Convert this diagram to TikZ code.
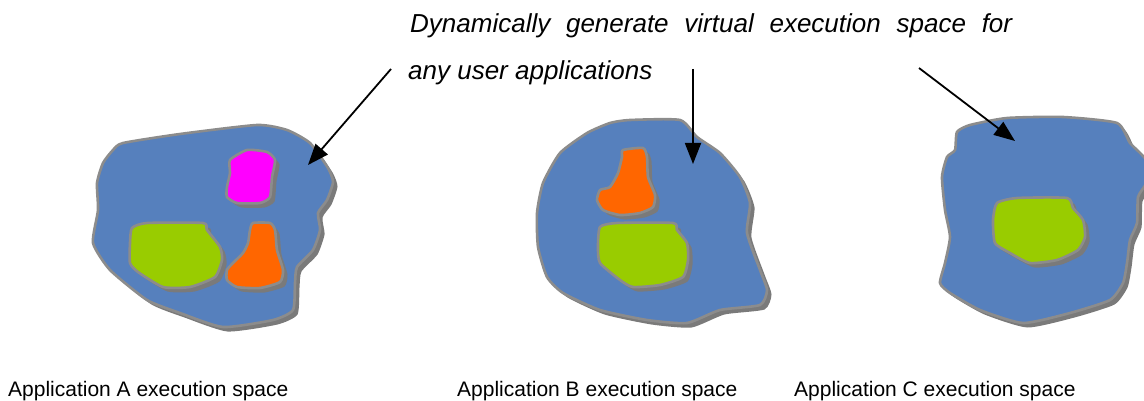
\documentclass[tikz,border=0pt]{standalone}
\usepackage{fontspec}
\setmainfont{Liberation Sans}
\usetikzlibrary{arrows.meta}
\definecolor{blobblue}{HTML}{5680BD}
\definecolor{blobedge}{HTML}{8C8C8C}
\definecolor{blobshadow}{HTML}{7A7A7A}
\definecolor{blobgreen}{HTML}{99CC00}
\definecolor{blobmagenta}{HTML}{FF00FF}
\definecolor{bloborange}{HTML}{FF6600}
\newcommand\myblob[2]{%
  \fill[blobshadow, xshift=4.5pt, yshift=-4.5pt] plot[smooth cycle, tension=0.35] coordinates {#2};
  \filldraw[fill=#1, draw=blobedge, line width=2.6pt, line join=round] plot[smooth cycle, tension=0.35] coordinates {#2};
}
\tikzset{
  pointer/.style={draw=black, line width=1.8pt, -{Triangle[length=21pt,width=16pt]}},
  caption/.style={anchor=base west, inner sep=0pt, font=\fontsize{21}{25}\selectfont},
  headline/.style={anchor=base west, inner sep=0pt, font=\fontsize{26}{31}\selectfont\itshape}
}
\begin{document}
\begin{tikzpicture}[x=1pt,y=-1pt]
\useasboundingbox (0,0) rectangle (1144,401);
% Blob A
\myblob{blobblue}{(123,143) (180,134) (257,125) (287,130) (310,143) (328,168) (333,182) (327,200) (318,213) (320,230) (313,250) (297,267) (295,283) (293,310) (273,320) (223,327) (180,313) (147,300) (110,270) (93,243) (98,210) (97,183) (103,163) (113,150)}
\myblob{blobmagenta}{(230,160) (247,150) (267,152) (275,160) (272,177) (270,197) (260,203) (237,203) (227,197) (227,187) (230,173)}
\myblob{blobgreen}{(132,228) (147,223) (203,223) (207,230) (220,247) (222,260) (215,277) (190,287) (163,287) (138,272) (130,263) (130,243)}
\myblob{bloborange}{(253,223) (270,223) (275,230) (277,250) (283,270) (280,282) (260,288) (237,287) (227,280) (227,270) (233,263) (243,253) (248,243) (250,230)}
% Blob B
\myblob{blobblue}{(630,120) (680,120) (697,137) (720,153) (740,177) (750,203) (747,233) (760,270) (767,290) (760,305) (720,310) (687,323) (647,320) (600,310) (563,293) (547,277) (538,247) (537,213) (543,183) (560,153) (587,133) (610,123)}
\myblob{bloborange}{(623,150) (643,148) (647,157) (648,177) (655,195) (653,207) (640,213) (620,215) (603,210) (597,200) (600,190) (610,187) (618,173) (622,157)}
\myblob{blobgreen}{(600,227) (617,223) (673,223) (677,230) (687,243) (688,260) (683,277) (660,285) (633,287) (620,280) (600,263) (598,247)}
% Blob C
\myblob{blobblue}{(957,132) (970,125) (1007,118) (1063,117) (1117,123) (1130,143) (1146,160) (1146,183) (1138,197) (1137,223) (1130,240) (1127,263) (1123,283) (1110,300) (1070,313) (1023,323) (980,310) (950,293) (940,283) (945,263) (950,237) (945,210) (942,177) (947,157) (955,150)}
\myblob{blobgreen}{(997,203) (1017,198) (1067,198) (1073,208) (1083,220) (1085,237) (1078,250) (1057,260) (1030,263) (1010,253) (995,243) (993,220)}
% Headline text
\node[headline] (line1) at (410,33) {\hbox to 602pt{Dynamically\hfill generate\hfill virtual\hfill execution\hfill space\hfill for}};
\node[headline] (line2) at (408,80) {any user applications};
% Arrows
\coordinate (a1s) at (391,69);
\coordinate (a1e) at (308,165);
\coordinate (a2s) at (693,69);
\coordinate (a2e) at (693,164);
\coordinate (a3s) at (919,68);
\coordinate (a3e) at (1015,141);
\draw[pointer] (a1s) -- (a1e);
\draw[pointer] (a2s) -- (a2e);
\draw[pointer] (a3s) -- (a3e);
% Captions
\node[caption] (capA) at (8,396) {Application A execution space};
\node[caption] (capB) at (457,396) {Application B execution space};
\node[caption] (capC) at (794,396) {Application C execution space};
\end{tikzpicture}
\end{document}
